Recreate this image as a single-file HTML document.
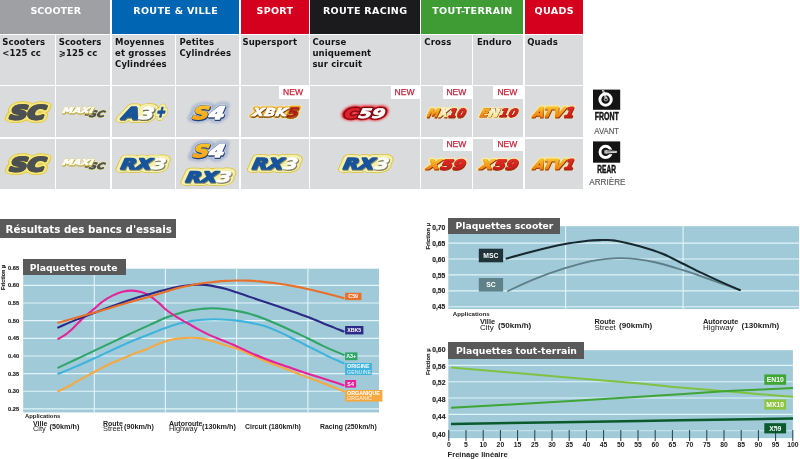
<!DOCTYPE html>
<html lang="fr"><head><meta charset="utf-8"><title>Plaquettes</title>
<style>
html,body{margin:0;padding:0;background:#fff}
body{width:800px;height:459px;position:relative;overflow:hidden;font-family:"DejaVu Sans","Liberation Sans",sans-serif;color:#111}
.a{position:absolute}
  .h{position:absolute;top:0;height:33.5px;color:#fff;font-weight:bold;font-size:9.55px;line-height:12px;text-align:center;white-space:nowrap}
.h span{position:relative;top:5.3px}
.c{position:absolute;background:#dadbdd}
.s{position:absolute;font-weight:bold;font-size:8.45px;line-height:11.35px;color:#141414;white-space:nowrap}
.new{position:absolute;background:#fff;color:#c4233a;font-family:"Liberation Sans",sans-serif;font-size:8.5px;line-height:13.6px;text-align:center;-webkit-text-stroke:0.25px #c4233a}
.t{position:absolute;background:#595959;color:#fff;font-weight:bold;white-space:nowrap}
svg{position:absolute;left:0;top:0;overflow:visible}
svg text{font-family:"Liberation Sans",sans-serif}
svg text.sb{font-family:"DejaVu Sans","Liberation Sans",sans-serif;font-weight:bold;font-size:8.5px;letter-spacing:0.12px;fill:#141414}
.lg text{font-family:"DejaVu Sans","Liberation Sans",sans-serif;font-weight:bold;font-style:italic}
</style></head><body>

<div class="h" style="left:0px;width:109.9px;background:#9fa0a3"><span style="top:5.3px;left:0.8px">SCOOTER</span></div>
<div class="h" style="left:111.7px;width:127.7px;background:#0065b3;letter-spacing:0.3px"><span style="top:5.3px;left:0.15px">ROUTE &amp; VILLE</span></div>
<div class="h" style="left:240.8px;width:68.0px;background:#d4001e;letter-spacing:0.3px"><span style="top:5.3px;left:0.15px">SPORT</span></div>
<div class="h" style="left:310.2px;width:109.6px;background:#1b1a1c;letter-spacing:0.3px"><span style="top:5.3px;left:0.15px">ROUTE RACING</span></div>
<div class="h" style="left:421.2px;width:102.2px;background:#3f9c35;letter-spacing:0.3px"><span style="top:5.3px;left:0.15px">TOUT-TERRAIN</span></div>
<div class="h" style="left:524.8px;width:58.6px;background:#d4001e;letter-spacing:0.3px"><span style="top:5.3px;left:0.15px">QUADS</span></div>
<div class="c" style="left:0px;top:34.7px;width:54.7px;height:50.6px"></div>
<div class="c" style="left:0px;top:86.45px;width:54.7px;height:50.7px"></div>
<div class="c" style="left:0px;top:138.5px;width:54.7px;height:50.2px"></div>
<div class="c" style="left:56.1px;top:34.7px;width:54.0px;height:50.6px"></div>
<div class="c" style="left:56.1px;top:86.45px;width:54.0px;height:50.7px"></div>
<div class="c" style="left:56.1px;top:138.5px;width:54.0px;height:50.2px"></div>
<div class="c" style="left:111.5px;top:34.7px;width:63.1px;height:50.6px"></div>
<div class="c" style="left:111.5px;top:86.45px;width:63.1px;height:50.7px"></div>
<div class="c" style="left:111.5px;top:138.5px;width:63.1px;height:50.2px"></div>
<div class="c" style="left:176.0px;top:34.7px;width:63.4px;height:50.6px"></div>
<div class="c" style="left:176.0px;top:86.45px;width:63.4px;height:50.7px"></div>
<div class="c" style="left:176.0px;top:138.5px;width:63.4px;height:50.2px"></div>
<div class="c" style="left:240.79999999999998px;top:34.7px;width:68.0px;height:50.6px"></div>
<div class="c" style="left:240.79999999999998px;top:86.45px;width:68.0px;height:50.7px"></div>
<div class="c" style="left:240.79999999999998px;top:138.5px;width:68.0px;height:50.2px"></div>
<div class="c" style="left:310.2px;top:34.7px;width:109.6px;height:50.6px"></div>
<div class="c" style="left:310.2px;top:86.45px;width:109.6px;height:50.7px"></div>
<div class="c" style="left:310.2px;top:138.5px;width:109.6px;height:50.2px"></div>
<div class="c" style="left:421.2px;top:34.7px;width:50.6px;height:50.6px"></div>
<div class="c" style="left:421.2px;top:86.45px;width:50.6px;height:50.7px"></div>
<div class="c" style="left:421.2px;top:138.5px;width:50.6px;height:50.2px"></div>
<div class="c" style="left:473.2px;top:34.7px;width:50.2px;height:50.6px"></div>
<div class="c" style="left:473.2px;top:86.45px;width:50.2px;height:50.7px"></div>
<div class="c" style="left:473.2px;top:138.5px;width:50.2px;height:50.2px"></div>
<div class="c" style="left:524.8000000000001px;top:34.7px;width:58.5px;height:50.6px"></div>
<div class="c" style="left:524.8000000000001px;top:86.45px;width:58.5px;height:50.7px"></div>
<div class="c" style="left:524.8000000000001px;top:138.5px;width:58.5px;height:50.2px"></div>
<div class="new" style="left:279px;top:86.2px;width:29.8px;height:13.3px"><span style="position:relative;left:-0.9px">NEW</span></div>
<div class="new" style="left:391px;top:86.2px;width:28.8px;height:13.3px"><span style="position:relative;left:-0.9px">NEW</span></div>
<div class="new" style="left:442.6px;top:86.2px;width:29.2px;height:13.3px"><span style="position:relative;left:-0.9px">NEW</span></div>
<div class="new" style="left:493px;top:86.2px;width:30.4px;height:13.3px"><span style="position:relative;left:-0.9px">NEW</span></div>
<div class="new" style="left:442.6px;top:138.2px;width:29.2px;height:13.3px"><span style="position:relative;left:-0.9px">NEW</span></div>
<div class="new" style="left:493px;top:138.2px;width:30.4px;height:13.3px"><span style="position:relative;left:-0.9px">NEW</span></div>
<svg width="800" height="459" viewBox="0 0 800 459">
<defs>
<linearGradient id="gO" x1="0" y1="0" x2="0" y2="1"><stop offset="0" stop-color="#fbd23a"/><stop offset="0.55" stop-color="#f39a1a"/><stop offset="1" stop-color="#ea6a10"/></linearGradient>
<linearGradient id="gY" x1="0" y1="0" x2="0" y2="1"><stop offset="0" stop-color="#ffffff"/><stop offset="1" stop-color="#fbe27a"/></linearGradient>
<linearGradient id="gR" x1="0" y1="0" x2="0" y2="1"><stop offset="0" stop-color="#e8302a"/><stop offset="1" stop-color="#c4141c"/></linearGradient>
<linearGradient id="gS" x1="0" y1="0" x2="0" y2="1"><stop offset="0" stop-color="#fcc62c"/><stop offset="1" stop-color="#f2a012"/></linearGradient>
<filter id="bl1" x="-20%" y="-40%" width="140%" height="180%"><feGaussianBlur stdDeviation="0.9"/></filter>
<filter id="bl2" x="-20%" y="-40%" width="140%" height="180%"><feGaussianBlur stdDeviation="1.6"/></filter>
</defs>
<text class="sb" x="2.25" y="44.50">Scooters</text>
<text class="sb" x="2.25" y="55.80">&lt;125 cc</text>
<text class="sb" x="58.65" y="44.50">Scooters</text>
<text class="sb" x="58.65" y="55.80">&#10878;125 cc</text>
<text class="sb" x="115.05" y="44.50">Moyennes</text>
<text class="sb" x="115.05" y="55.80">et grosses</text>
<text class="sb" x="115.05" y="67.10">Cylindrées</text>
<text class="sb" x="179.45" y="44.50">Petites</text>
<text class="sb" x="179.45" y="55.80">Cylindrées</text>
<text class="sb" x="242.45" y="44.50">Supersport</text>
<text class="sb" x="312.45" y="44.50">Course</text>
<text class="sb" x="312.45" y="55.80">uniquement</text>
<text class="sb" x="312.45" y="67.10">sur circuit</text>
<text class="sb" x="424.35" y="44.50">Cross</text>
<text class="sb" x="476.95" y="44.50">Enduro</text>
<text class="sb" x="527.25" y="44.50">Quads</text>
<g class="lg" transform="translate(9.60,119.20) skewX(-8)" font-size="18.66" stroke-linejoin="round">
<text x="0" y="0" textLength="35.25" lengthAdjust="spacingAndGlyphs" fill="none" stroke="#e2c62e" stroke-width="7.60">SC</text>
<text x="0" y="0" textLength="35.25" lengthAdjust="spacingAndGlyphs" fill="none" stroke="#f4e67c" stroke-width="6.20">SC</text>
<text x="0" y="0" textLength="35.25" lengthAdjust="spacingAndGlyphs" fill="none" stroke="#5a5a2a" stroke-width="2.50">SC</text>
<text x="0" y="0" textLength="35.25" lengthAdjust="spacingAndGlyphs"><tspan fill="#4b5055" stroke="#4b5055" stroke-width="1.8">SC</tspan></text>
</g>
<g class="lg" transform="translate(9.60,171.20) skewX(-8)" font-size="18.66" stroke-linejoin="round">
<text x="0" y="0" textLength="35.25" lengthAdjust="spacingAndGlyphs" fill="none" stroke="#e2c62e" stroke-width="7.60">SC</text>
<text x="0" y="0" textLength="35.25" lengthAdjust="spacingAndGlyphs" fill="none" stroke="#f4e67c" stroke-width="6.20">SC</text>
<text x="0" y="0" textLength="35.25" lengthAdjust="spacingAndGlyphs" fill="none" stroke="#5a5a2a" stroke-width="2.50">SC</text>
<text x="0" y="0" textLength="35.25" lengthAdjust="spacingAndGlyphs"><tspan fill="#4b5055" stroke="#4b5055" stroke-width="1.8">SC</tspan></text>
</g>
<g class="lg" transform="translate(84.35,116.95) skewX(-14)" font-size="8.64" stroke-linejoin="round">
<text x="0" y="0" textLength="20.06" lengthAdjust="spacingAndGlyphs" fill="none" stroke="#efe6a0" stroke-width="2.30">-SC</text>
<text x="0" y="0" textLength="20.06" lengthAdjust="spacingAndGlyphs"><tspan fill="#4b5055" stroke="#4b5055" stroke-width="0.7">-SC</tspan></text>
</g>
<g class="lg" transform="translate(62.30,113.10) skewX(-14)" font-size="7.96" stroke-linejoin="round">
<text x="0" y="0" textLength="30.53" lengthAdjust="spacingAndGlyphs" fill="none" stroke="#e9dd8a" stroke-width="1.40">MAXI</text>
<text x="0" y="0" textLength="30.53" lengthAdjust="spacingAndGlyphs" fill="#bfa52e" stroke="#bfa52e" stroke-width="1.10" transform="translate(0.6,0.9)">MAXI</text>
<text x="0" y="0" textLength="30.53" lengthAdjust="spacingAndGlyphs"><tspan fill="#ffffff" stroke="#ffffff" stroke-width="0.6">MAXI</tspan></text>
</g>
<g class="lg" transform="translate(84.35,168.95) skewX(-14)" font-size="8.64" stroke-linejoin="round">
<text x="0" y="0" textLength="20.06" lengthAdjust="spacingAndGlyphs" fill="none" stroke="#efe6a0" stroke-width="2.30">-SC</text>
<text x="0" y="0" textLength="20.06" lengthAdjust="spacingAndGlyphs"><tspan fill="#4b5055" stroke="#4b5055" stroke-width="0.7">-SC</tspan></text>
</g>
<g class="lg" transform="translate(62.30,165.10) skewX(-14)" font-size="7.96" stroke-linejoin="round">
<text x="0" y="0" textLength="30.53" lengthAdjust="spacingAndGlyphs" fill="none" stroke="#e9dd8a" stroke-width="1.40">MAXI</text>
<text x="0" y="0" textLength="30.53" lengthAdjust="spacingAndGlyphs" fill="#bfa52e" stroke="#bfa52e" stroke-width="1.10" transform="translate(0.6,0.9)">MAXI</text>
<text x="0" y="0" textLength="30.53" lengthAdjust="spacingAndGlyphs"><tspan fill="#ffffff" stroke="#ffffff" stroke-width="0.6">MAXI</tspan></text>
</g>
<g class="lg" transform="translate(121.90,118.90) skewX(-10)" font-size="16.19" stroke-linejoin="round">
<text x="0" y="0" textLength="31.75" lengthAdjust="spacingAndGlyphs" fill="none" stroke="#dcc232" stroke-width="7.40">A3</text>
<text x="0" y="0" textLength="31.75" lengthAdjust="spacingAndGlyphs" fill="none" stroke="#f5efae" stroke-width="6.10">A3</text>
<text x="0" y="0" textLength="31.75" lengthAdjust="spacingAndGlyphs" fill="#6a6f55" stroke="#6a6f55" stroke-width="1.40" opacity="0.8" transform="translate(0.8,0.8)">A3</text>
<text x="0" y="0" textLength="31.75" lengthAdjust="spacingAndGlyphs"><tspan fill="#17549c" stroke="#17549c" stroke-width="1.4">A</tspan><tspan fill="#ffffff" stroke="#ffffff" stroke-width="0.7">3</tspan></text>
</g>
<g class="lg" transform="translate(155.75,116.85) skewX(-12)" font-size="15.23" stroke-linejoin="round">
<text x="0" y="0" textLength="9.28" lengthAdjust="spacingAndGlyphs" fill="none" stroke="#dcc232" stroke-width="7.50">+</text>
<text x="0" y="0" textLength="9.28" lengthAdjust="spacingAndGlyphs" fill="none" stroke="#f5efae" stroke-width="6.20">+</text>
<text x="0" y="0" textLength="9.28" lengthAdjust="spacingAndGlyphs"><tspan fill="#17549c" stroke="#17549c" stroke-width="1.5">+</tspan></text>
</g>
<g class="lg" transform="translate(121.90,118.90) skewX(-10)" font-size="16.19" stroke-linejoin="round">
<text x="0" y="0" textLength="31.75" lengthAdjust="spacingAndGlyphs" fill="#6a6f55" stroke="#6a6f55" stroke-width="1.40" opacity="0.8" transform="translate(0.8,0.8)">A3</text>
<text x="0" y="0" textLength="31.75" lengthAdjust="spacingAndGlyphs"><tspan fill="#17549c" stroke="#17549c" stroke-width="1.4">A</tspan><tspan fill="#ffffff" stroke="#ffffff" stroke-width="0.7">3</tspan></text>
</g>
<g class="lg" transform="translate(120.30,169.30) skewX(-10)" font-size="14.54" stroke-linejoin="round">
<text x="0" y="0" textLength="45.08" lengthAdjust="spacingAndGlyphs" fill="none" stroke="#dcc232" stroke-width="7.40">RX3</text>
<text x="0" y="0" textLength="45.08" lengthAdjust="spacingAndGlyphs" fill="none" stroke="#f5efae" stroke-width="6.10">RX3</text>
<text x="0" y="0" textLength="45.08" lengthAdjust="spacingAndGlyphs" fill="#6a6f55" stroke="#6a6f55" stroke-width="1.40" opacity="0.8" transform="translate(0.8,0.8)">RX3</text>
<text x="0" y="0" textLength="45.08" lengthAdjust="spacingAndGlyphs"><tspan fill="#17549c" stroke="#17549c" stroke-width="1.4">RX</tspan><tspan fill="#ffffff" stroke="#ffffff" stroke-width="0.7">3</tspan></text>
</g>
<g class="lg" transform="translate(185.20,182.00) skewX(-10)" font-size="14.40" stroke-linejoin="round">
<text x="0" y="0" textLength="45.59" lengthAdjust="spacingAndGlyphs" fill="none" stroke="#dcc232" stroke-width="7.40">RX3</text>
<text x="0" y="0" textLength="45.59" lengthAdjust="spacingAndGlyphs" fill="none" stroke="#f5efae" stroke-width="6.10">RX3</text>
<text x="0" y="0" textLength="45.59" lengthAdjust="spacingAndGlyphs" fill="#6a6f55" stroke="#6a6f55" stroke-width="1.40" opacity="0.8" transform="translate(0.8,0.8)">RX3</text>
<text x="0" y="0" textLength="45.59" lengthAdjust="spacingAndGlyphs"><tspan fill="#17549c" stroke="#17549c" stroke-width="1.4">RX</tspan><tspan fill="#ffffff" stroke="#ffffff" stroke-width="0.7">3</tspan></text>
</g>
<g class="lg" transform="translate(251.70,169.10) skewX(-10)" font-size="15.09" stroke-linejoin="round">
<text x="0" y="0" textLength="45.44" lengthAdjust="spacingAndGlyphs" fill="none" stroke="#dcc232" stroke-width="7.40">RX3</text>
<text x="0" y="0" textLength="45.44" lengthAdjust="spacingAndGlyphs" fill="none" stroke="#f5efae" stroke-width="6.10">RX3</text>
<text x="0" y="0" textLength="45.44" lengthAdjust="spacingAndGlyphs" fill="#6a6f55" stroke="#6a6f55" stroke-width="1.40" opacity="0.8" transform="translate(0.8,0.8)">RX3</text>
<text x="0" y="0" textLength="45.44" lengthAdjust="spacingAndGlyphs"><tspan fill="#17549c" stroke="#17549c" stroke-width="1.4">RX</tspan><tspan fill="#ffffff" stroke="#ffffff" stroke-width="0.7">3</tspan></text>
</g>
<g class="lg" transform="translate(342.70,169.10) skewX(-10)" font-size="15.09" stroke-linejoin="round">
<text x="0" y="0" textLength="45.44" lengthAdjust="spacingAndGlyphs" fill="none" stroke="#dcc232" stroke-width="7.40">RX3</text>
<text x="0" y="0" textLength="45.44" lengthAdjust="spacingAndGlyphs" fill="none" stroke="#f5efae" stroke-width="6.10">RX3</text>
<text x="0" y="0" textLength="45.44" lengthAdjust="spacingAndGlyphs" fill="#6a6f55" stroke="#6a6f55" stroke-width="1.40" opacity="0.8" transform="translate(0.8,0.8)">RX3</text>
<text x="0" y="0" textLength="45.44" lengthAdjust="spacingAndGlyphs"><tspan fill="#17549c" stroke="#17549c" stroke-width="1.4">RX</tspan><tspan fill="#ffffff" stroke="#ffffff" stroke-width="0.7">3</tspan></text>
</g>
<g class="lg" transform="translate(192.25,118.95) skewX(-10)" font-size="17.42" stroke-linejoin="round">
<text x="0" y="0" textLength="31.76" lengthAdjust="spacingAndGlyphs" fill="none" stroke="#8a9fc4" stroke-width="6.70" filter="url(#bl2)" opacity="0.95">S4</text>
<text x="0" y="0" textLength="31.76" lengthAdjust="spacingAndGlyphs" fill="none" stroke="#e9eef6" stroke-width="3.70" filter="url(#bl1)" opacity="0.85">S4</text>
<text x="0" y="0" textLength="31.76" lengthAdjust="spacingAndGlyphs" fill="none" stroke="#3a538a" stroke-width="2.20" opacity="0.8">S4</text>
<text x="0" y="0" textLength="31.76" lengthAdjust="spacingAndGlyphs" fill="#243f78" stroke="#243f78" stroke-width="1.90" transform="translate(0.7,1.0)">S4</text>
<text x="0" y="0" textLength="31.76" lengthAdjust="spacingAndGlyphs"><tspan fill="url(#gS)" stroke="url(#gS)" stroke-width="1.3">S</tspan><tspan fill="#ffffff" stroke="#ffffff" stroke-width="1.3">4</tspan></text>
</g>
<g class="lg" transform="translate(192.55,157.35) skewX(-10)" font-size="17.15" stroke-linejoin="round">
<text x="0" y="0" textLength="31.28" lengthAdjust="spacingAndGlyphs" fill="none" stroke="#8a9fc4" stroke-width="6.70" filter="url(#bl2)" opacity="0.95">S4</text>
<text x="0" y="0" textLength="31.28" lengthAdjust="spacingAndGlyphs" fill="none" stroke="#e9eef6" stroke-width="3.70" filter="url(#bl1)" opacity="0.85">S4</text>
<text x="0" y="0" textLength="31.28" lengthAdjust="spacingAndGlyphs" fill="none" stroke="#3a538a" stroke-width="2.20" opacity="0.8">S4</text>
<text x="0" y="0" textLength="31.28" lengthAdjust="spacingAndGlyphs" fill="#243f78" stroke="#243f78" stroke-width="1.90" transform="translate(0.7,1.0)">S4</text>
<text x="0" y="0" textLength="31.28" lengthAdjust="spacingAndGlyphs"><tspan fill="url(#gS)" stroke="url(#gS)" stroke-width="1.3">S</tspan><tspan fill="#ffffff" stroke="#ffffff" stroke-width="1.3">4</tspan></text>
</g>
<g class="lg" transform="translate(252.25,116.15) skewX(-10)" font-size="10.84" stroke-linejoin="round">
<text x="0" y="0" textLength="34.26" lengthAdjust="spacingAndGlyphs" fill="none" stroke="#f7e9a8" stroke-width="4.50">XBK</text>
<text x="0" y="0" textLength="34.26" lengthAdjust="spacingAndGlyphs" fill="none" stroke="#e6a426" stroke-width="3.30">XBK</text>
<text x="0" y="0" textLength="34.26" lengthAdjust="spacingAndGlyphs" fill="none" stroke="#7a4a10" stroke-width="1.00" transform="translate(0.5,0.6)">XBK</text>
<text x="0" y="0" textLength="34.26" lengthAdjust="spacingAndGlyphs"><tspan fill="#ffffff" stroke="#ffffff" stroke-width="0.5">XBK</tspan></text>
</g>
<g class="lg" transform="translate(286.45,116.95) skewX(-10)" font-size="13.03" stroke-linejoin="round">
<text x="0" y="0" textLength="11.49" lengthAdjust="spacingAndGlyphs" fill="none" stroke="#f7e9a8" stroke-width="4.50">5</text>
<text x="0" y="0" textLength="11.49" lengthAdjust="spacingAndGlyphs" fill="none" stroke="#e6a426" stroke-width="3.30">5</text>
<text x="0" y="0" textLength="11.49" lengthAdjust="spacingAndGlyphs" fill="none" stroke="#7a4a10" stroke-width="1.00" transform="translate(0.5,0.6)">5</text>
<text x="0" y="0" textLength="11.49" lengthAdjust="spacingAndGlyphs"><tspan fill="#b21a1a" stroke="#b21a1a" stroke-width="0.5">5</tspan></text>
</g>
<g class="lg" transform="translate(252.25,116.15) skewX(-10)" font-size="10.84" stroke-linejoin="round">
<text x="0" y="0" textLength="34.26" lengthAdjust="spacingAndGlyphs" fill="none" stroke="#7a4a10" stroke-width="1.00" transform="translate(0.5,0.6)">XBK</text>
<text x="0" y="0" textLength="34.26" lengthAdjust="spacingAndGlyphs"><tspan fill="#ffffff" stroke="#ffffff" stroke-width="0.5">XBK</tspan></text>
</g>
<g class="lg" transform="translate(343.95,117.85) skewX(-10)" font-size="13.17" stroke-linejoin="round">
<text x="0" y="0" textLength="40.68" lengthAdjust="spacingAndGlyphs" fill="none" stroke="#e8404a" stroke-width="5.70" filter="url(#bl1)" opacity="0.9">C59</text>
<text x="0" y="0" textLength="40.68" lengthAdjust="spacingAndGlyphs" fill="none" stroke="#c8141e" stroke-width="3.90">C59</text>
<text x="0" y="0" textLength="40.68" lengthAdjust="spacingAndGlyphs" fill="none" stroke="#7c0c12" stroke-width="2.70">C59</text>
<text x="0" y="0" textLength="40.68" lengthAdjust="spacingAndGlyphs"><tspan fill="#e0222c" stroke="#e0222c" stroke-width="0.7">C</tspan><tspan fill="#ffffff" stroke="#ffffff" stroke-width="0.7">59</tspan></text>
</g>
<g class="lg" transform="translate(426.60,116.90) skewX(-14)" font-size="12.07" stroke-linejoin="round">
<text x="0" y="0" textLength="37.98" lengthAdjust="spacingAndGlyphs" fill="none" stroke="#f6eaa6" stroke-width="3.00">MX10</text>
<text x="0" y="0" textLength="37.98" lengthAdjust="spacingAndGlyphs" fill="#8f2a0c" stroke="#8f2a0c" stroke-width="0.80" transform="translate(0.6,0.7)">MX10</text>
<text x="0" y="0" textLength="37.98" lengthAdjust="spacingAndGlyphs"><tspan fill="url(#gO)" stroke="url(#gO)" stroke-width="0.6">M</tspan><tspan fill="url(#gY)" stroke="url(#gY)" stroke-width="0.6">X</tspan><tspan fill="url(#gR)" stroke="url(#gR)" stroke-width="0.6">10</tspan></text>
</g>
<g class="lg" transform="translate(479.30,116.60) skewX(-14)" font-size="11.39" stroke-linejoin="round">
<text x="0" y="0" textLength="37.36" lengthAdjust="spacingAndGlyphs" fill="none" stroke="#f6eaa6" stroke-width="3.00">EN10</text>
<text x="0" y="0" textLength="37.36" lengthAdjust="spacingAndGlyphs" fill="#8f2a0c" stroke="#8f2a0c" stroke-width="0.80" transform="translate(0.6,0.7)">EN10</text>
<text x="0" y="0" textLength="37.36" lengthAdjust="spacingAndGlyphs"><tspan fill="url(#gO)" stroke="url(#gO)" stroke-width="0.6">E</tspan><tspan fill="url(#gY)" stroke="url(#gY)" stroke-width="0.6">N</tspan><tspan fill="url(#gR)" stroke="url(#gR)" stroke-width="0.6">10</tspan></text>
</g>
<g class="lg" transform="translate(532.65,117.15) skewX(-14)" font-size="13.72" stroke-linejoin="round">
<text x="0" y="0" textLength="41.00" lengthAdjust="spacingAndGlyphs" fill="none" stroke="#f6eaa6" stroke-width="3.30">ATV1</text>
<text x="0" y="0" textLength="41.00" lengthAdjust="spacingAndGlyphs" fill="#8f2a0c" stroke="#8f2a0c" stroke-width="1.10" transform="translate(0.6,0.7)">ATV1</text>
<text x="0" y="0" textLength="41.00" lengthAdjust="spacingAndGlyphs"><tspan fill="url(#gO)" stroke="url(#gO)" stroke-width="0.9">ATV</tspan><tspan fill="url(#gR)" stroke="url(#gR)" stroke-width="0.9">1</tspan></text>
</g>
<g class="lg" transform="translate(426.05,169.15) skewX(-14)" font-size="13.17" stroke-linejoin="round">
<text x="0" y="0" textLength="38.26" lengthAdjust="spacingAndGlyphs" fill="none" stroke="#f6eaa6" stroke-width="3.30">X59</text>
<text x="0" y="0" textLength="38.26" lengthAdjust="spacingAndGlyphs" fill="#8f2a0c" stroke="#8f2a0c" stroke-width="1.10" transform="translate(0.6,0.7)">X59</text>
<text x="0" y="0" textLength="38.26" lengthAdjust="spacingAndGlyphs"><tspan fill="url(#gO)" stroke="url(#gO)" stroke-width="0.9">X</tspan><tspan fill="url(#gR)" stroke="url(#gR)" stroke-width="0.9">59</tspan></text>
</g>
<g class="lg" transform="translate(479.25,169.15) skewX(-14)" font-size="13.17" stroke-linejoin="round">
<text x="0" y="0" textLength="37.56" lengthAdjust="spacingAndGlyphs" fill="none" stroke="#f6eaa6" stroke-width="3.30">X59</text>
<text x="0" y="0" textLength="37.56" lengthAdjust="spacingAndGlyphs" fill="#8f2a0c" stroke="#8f2a0c" stroke-width="1.10" transform="translate(0.6,0.7)">X59</text>
<text x="0" y="0" textLength="37.56" lengthAdjust="spacingAndGlyphs"><tspan fill="url(#gO)" stroke="url(#gO)" stroke-width="0.9">X</tspan><tspan fill="url(#gR)" stroke="url(#gR)" stroke-width="0.9">59</tspan></text>
</g>
<g class="lg" transform="translate(532.65,169.35) skewX(-14)" font-size="13.72" stroke-linejoin="round">
<text x="0" y="0" textLength="41.00" lengthAdjust="spacingAndGlyphs" fill="none" stroke="#f6eaa6" stroke-width="3.30">ATV1</text>
<text x="0" y="0" textLength="41.00" lengthAdjust="spacingAndGlyphs" fill="#8f2a0c" stroke="#8f2a0c" stroke-width="1.10" transform="translate(0.6,0.7)">ATV1</text>
<text x="0" y="0" textLength="41.00" lengthAdjust="spacingAndGlyphs"><tspan fill="url(#gO)" stroke="url(#gO)" stroke-width="0.9">ATV</tspan><tspan fill="url(#gR)" stroke="url(#gR)" stroke-width="0.9">1</tspan></text>
</g>
<g>
<rect x="593" y="89.6" width="27.2" height="20.2" fill="#141414"/>
<circle cx="605.6" cy="99.5" r="5.7" fill="none" stroke="#fff" stroke-width="2.9"/>
<circle cx="605.9" cy="99.3" r="2.2" fill="#8a8a8a"/>
<circle cx="605.9" cy="99.3" r="0.9" fill="#222"/>
<path d="M602.3 90 L605.6 98.6 M603.5 90 L606.7 98.4" stroke="#fff" stroke-width="0.8" fill="none"/>
<text x="594.8" y="120" font-weight="bold" font-size="10" fill="#141414" stroke="#141414" stroke-width="0.5" textLength="24" lengthAdjust="spacingAndGlyphs">FRONT</text>
<text x="594.3" y="133.7" font-size="9" fill="#585858" stroke="#585858" stroke-width="0.15" textLength="24.8" lengthAdjust="spacingAndGlyphs">AVANT</text>
<rect x="593" y="141.4" width="27.2" height="21.3" fill="#141414"/>
<circle cx="605.6" cy="151.9" r="5.6" fill="none" stroke="#fff" stroke-width="2.9"/>
<rect x="606" y="149.6" width="11" height="4.6" fill="#141414"/>
<circle cx="605.9" cy="151.9" r="2.1" fill="#8a8a8a"/>
<path d="M606 150.9 L616.6 151.4 L616.6 152.4 L606 152.9 Z" fill="#555" stroke="#fff" stroke-width="0.8"/>
<text x="597.3" y="172.6" font-weight="bold" font-size="10" fill="#141414" stroke="#141414" stroke-width="0.5" textLength="18.6" lengthAdjust="spacingAndGlyphs">REAR</text>
<text x="589.3" y="185.3" font-size="9.3" fill="#585858" stroke="#585858" stroke-width="0.15" textLength="36.2" lengthAdjust="spacingAndGlyphs">ARRIÈRE</text>
</g>
</svg>
<div class="t" style="left:0;top:219.3px;width:176px;height:19px;font-size:10.3px;line-height:20.2px"><span style="padding-left:5.6px">Résultats des bancs d'essais</span></div>
<svg width="800" height="459" viewBox="0 0 800 459">
<rect x="23.2" y="268.7" width="355.8" height="143.7" fill="#a0cad8"/>
<line x1="23.2" x2="379.0" y1="285.35" y2="285.35" stroke="#e2f3f9" stroke-width="1.15"/>
<line x1="23.2" x2="379.0" y1="303.00" y2="303.00" stroke="#e2f3f9" stroke-width="1.15"/>
<line x1="23.2" x2="379.0" y1="320.65" y2="320.65" stroke="#e2f3f9" stroke-width="1.15"/>
<line x1="23.2" x2="379.0" y1="338.30" y2="338.30" stroke="#e2f3f9" stroke-width="1.15"/>
<line x1="23.2" x2="379.0" y1="355.95" y2="355.95" stroke="#e2f3f9" stroke-width="1.15"/>
<line x1="23.2" x2="379.0" y1="373.60" y2="373.60" stroke="#e2f3f9" stroke-width="1.15"/>
<line x1="23.2" x2="379.0" y1="391.25" y2="391.25" stroke="#e2f3f9" stroke-width="1.15"/>
<line x1="23.2" x2="379.0" y1="408.90" y2="408.90" stroke="#e2f3f9" stroke-width="1.15"/>
<line x1="94.3" x2="94.3" y1="268.7" y2="412.4" stroke="#e2f3f9" stroke-width="1.15"/>
<line x1="165.4" x2="165.4" y1="268.7" y2="412.4" stroke="#e2f3f9" stroke-width="1.15"/>
<line x1="236.6" x2="236.6" y1="268.7" y2="412.4" stroke="#e2f3f9" stroke-width="1.15"/>
<line x1="307.9" x2="307.9" y1="268.7" y2="412.4" stroke="#e2f3f9" stroke-width="1.15"/>
<text x="8" y="269.7" font-size="5.7" font-weight="bold" fill="#222" stroke="#222" stroke-width="0.15">0.65</text>
<text x="8" y="287.3" font-size="5.7" font-weight="bold" fill="#222" stroke="#222" stroke-width="0.15">0.60</text>
<text x="8" y="305.0" font-size="5.7" font-weight="bold" fill="#222" stroke="#222" stroke-width="0.15">0.55</text>
<text x="8" y="322.6" font-size="5.7" font-weight="bold" fill="#222" stroke="#222" stroke-width="0.15">0.50</text>
<text x="8" y="340.3" font-size="5.7" font-weight="bold" fill="#222" stroke="#222" stroke-width="0.15">0.45</text>
<text x="8" y="357.9" font-size="5.7" font-weight="bold" fill="#222" stroke="#222" stroke-width="0.15">0.40</text>
<text x="8" y="375.6" font-size="5.7" font-weight="bold" fill="#222" stroke="#222" stroke-width="0.15">0.35</text>
<text x="8" y="393.2" font-size="5.7" font-weight="bold" fill="#222" stroke="#222" stroke-width="0.15">0.30</text>
<text x="8" y="410.9" font-size="5.7" font-weight="bold" fill="#222" stroke="#222" stroke-width="0.15">0.25</text>
<text transform="translate(5.2,290) rotate(-90)" font-size="5.6" font-weight="bold" fill="#222" stroke="#222" stroke-width="0.12">Friction µ</text>
<path d="M58.3 391.2 C60.0 390.4 64.8 388.2 68.6 386.2 C72.4 384.2 76.9 381.4 81.1 379.1 C85.3 376.8 89.4 374.7 93.9 372.3 C98.4 369.9 103.5 366.9 107.9 364.8 C112.3 362.7 116.2 361.3 120.4 359.5 C124.6 357.7 128.5 355.9 132.9 354.1 C137.3 352.4 142.6 350.8 147.1 349.0 C151.6 347.2 156.2 344.7 160.0 343.2 C163.8 341.7 166.8 340.8 170.0 340.0 C173.2 339.2 175.7 338.8 179.2 338.4 C182.7 338.0 187.1 337.7 191.0 337.7 C194.9 337.7 198.8 337.9 202.7 338.6 C206.6 339.3 210.6 340.5 214.5 341.7 C218.4 342.9 222.6 344.5 226.3 345.6 C230.0 346.8 232.1 347.0 236.5 348.6 C240.9 350.2 247.3 353.2 252.5 355.4 C257.7 357.6 262.5 359.9 267.5 362.0 C272.5 364.1 277.5 365.9 282.5 367.8 C287.5 369.7 293.2 372.0 297.5 373.6 C301.8 375.2 304.2 376.2 308.0 377.6 C311.8 379.0 315.5 380.2 320.0 381.9 C324.5 383.6 331.0 386.2 335.0 387.8 C339.0 389.4 342.3 390.8 343.8 391.4" fill="none" stroke="#f7a941" stroke-width="2.1" stroke-linecap="round" stroke-linejoin="round"/>
<path d="M58.3 373.8 C61.2 372.6 69.8 369.2 75.7 366.6 C81.6 364.1 85.2 362.5 93.9 358.5 C102.7 354.5 118.5 346.9 128.2 342.7 C137.8 338.5 145.6 335.7 151.8 333.2 C158.0 330.7 160.9 329.5 165.5 327.9 C170.1 326.3 174.9 324.7 179.2 323.6 C183.4 322.5 187.1 321.8 191.0 321.1 C194.9 320.5 198.8 320.0 202.7 319.7 C206.6 319.4 210.6 319.3 214.5 319.3 C218.4 319.3 222.6 319.5 226.3 319.7 C230.0 319.9 232.9 320.2 236.5 320.6 C240.1 321.0 243.3 321.4 247.8 322.3 C252.3 323.2 258.3 324.2 263.5 325.8 C268.7 327.4 274.0 329.6 279.2 331.9 C284.4 334.2 290.0 337.1 294.9 339.5 C299.8 341.9 304.0 344.3 308.6 346.6 C313.2 348.9 318.1 351.3 322.4 353.4 C326.6 355.5 330.6 357.5 334.1 359.1 C337.6 360.7 342.0 362.5 343.6 363.2" fill="none" stroke="#3fb3dc" stroke-width="2.1" stroke-linecap="round" stroke-linejoin="round"/>
<path d="M58.3 367.6 C61.2 366.2 69.8 362.3 75.7 359.5 C81.6 356.7 85.2 355.0 93.9 350.9 C102.7 346.8 118.5 339.3 128.2 334.8 C137.8 330.3 145.6 326.8 151.8 324.0 C158.0 321.2 160.9 319.6 165.5 317.8 C170.1 316.0 174.9 314.4 179.2 313.2 C183.4 311.9 187.1 311.0 191.0 310.3 C194.9 309.6 199.1 309.1 202.7 308.8 C206.3 308.5 208.6 308.2 212.5 308.3 C216.4 308.4 222.3 308.8 226.3 309.2 C230.3 309.6 232.9 310.2 236.5 310.9 C240.1 311.6 243.3 312.0 247.8 313.3 C252.3 314.6 258.3 316.6 263.5 318.5 C268.7 320.4 274.0 322.7 279.2 325.0 C284.4 327.3 290.0 330.0 294.9 332.3 C299.8 334.6 304.0 336.5 308.6 338.7 C313.2 340.9 318.1 343.6 322.4 345.6 C326.6 347.6 330.6 349.4 334.1 350.9 C337.6 352.4 342.0 354.1 343.6 354.8" fill="none" stroke="#2fa567" stroke-width="2.1" stroke-linecap="round" stroke-linejoin="round"/>
<path d="M58.3 338.8 C59.5 338.1 63.0 336.4 65.5 334.6 C68.0 332.8 70.4 330.6 73.3 327.9 C76.2 325.1 79.7 321.2 83.1 318.1 C86.5 315.0 90.6 311.9 93.9 309.1 C97.2 306.3 99.6 303.8 102.7 301.5 C105.8 299.2 109.2 297.2 112.5 295.6 C115.8 294.0 119.1 292.6 122.4 291.8 C125.7 291.0 128.9 290.5 132.2 290.6 C135.5 290.7 138.9 291.4 142.0 292.3 C145.1 293.2 147.6 294.4 150.5 296.3 C153.4 298.2 157.1 301.5 159.6 303.6 C162.1 305.8 162.6 306.9 165.5 309.2 C168.4 311.5 173.4 314.9 177.3 317.4 C181.2 319.9 185.4 321.9 189.0 324.0 C192.6 326.1 195.5 327.9 198.8 329.7 C202.1 331.5 205.3 333.1 208.6 334.6 C211.9 336.1 215.1 337.5 218.4 338.8 C221.7 340.1 225.2 341.4 228.2 342.6 C231.2 343.8 232.4 344.4 236.5 346.2 C240.6 348.0 247.3 351.4 252.5 353.6 C257.7 355.9 262.5 357.8 267.5 359.7 C272.5 361.6 277.5 363.2 282.5 365.0 C287.5 366.8 293.2 368.7 297.5 370.2 C301.8 371.7 304.2 372.6 308.0 373.8 C311.8 375.0 315.5 376.1 320.0 377.5 C324.5 378.9 331.1 380.9 335.0 382.2 C338.9 383.5 342.2 384.7 343.6 385.2" fill="none" stroke="#e5229b" stroke-width="2.1" stroke-linecap="round" stroke-linejoin="round"/>
<path d="M58.2 327.5 C61.1 326.3 69.3 322.5 75.3 320.1 C81.2 317.7 85.1 316.2 93.9 312.9 C102.7 309.6 118.5 303.8 128.2 300.5 C137.8 297.2 145.6 295.2 151.8 293.4 C158.0 291.6 160.9 290.8 165.5 289.7 C170.1 288.6 174.9 287.4 179.2 286.6 C183.4 285.8 187.9 285.3 191.0 285.0 C194.1 284.7 195.7 284.6 198.0 284.6 C200.3 284.6 202.2 284.6 205.0 284.9 C207.8 285.2 210.9 285.7 214.5 286.4 C218.1 287.1 222.6 288.1 226.3 289.1 C230.0 290.1 232.9 291.1 236.5 292.3 C240.1 293.5 244.0 294.9 247.8 296.2 C251.7 297.5 254.4 298.4 259.6 300.2 C264.8 302.0 273.3 304.8 279.2 306.8 C285.1 308.8 290.0 310.6 294.9 312.3 C299.8 314.1 304.0 315.5 308.6 317.3 C313.2 319.1 318.1 321.3 322.4 323.0 C326.6 324.7 330.6 326.2 334.1 327.6 C337.6 329.0 342.0 330.9 343.6 331.5" fill="none" stroke="#2b2a86" stroke-width="2.1" stroke-linecap="round" stroke-linejoin="round"/>
<path d="M58.2 322.7 C64.2 321.1 82.2 316.1 93.9 312.8 C105.6 309.5 118.5 305.4 128.2 302.6 C137.8 299.8 145.6 297.8 151.8 296.0 C158.0 294.2 160.9 293.1 165.5 291.7 C170.1 290.3 174.9 288.8 179.2 287.7 C183.4 286.6 187.1 285.9 191.0 285.2 C194.9 284.4 198.8 283.8 202.7 283.2 C206.6 282.6 210.6 282.3 214.5 281.9 C218.4 281.5 222.6 281.1 226.3 280.9 C230.0 280.7 232.9 280.6 236.5 280.5 C240.1 280.4 244.0 280.5 247.8 280.6 C251.7 280.8 254.4 280.9 259.6 281.4 C264.8 281.9 273.3 283.0 279.2 283.8 C285.1 284.6 290.0 285.5 294.9 286.4 C299.8 287.3 304.0 288.3 308.6 289.3 C313.2 290.3 318.1 291.6 322.4 292.6 C326.6 293.7 330.6 294.7 334.1 295.6 C337.6 296.5 342.0 297.7 343.6 298.1" fill="none" stroke="#e9702a" stroke-width="2.1" stroke-linecap="round" stroke-linejoin="round"/>
<rect x="345.1" y="292.8" width="16.3" height="7.3" fill="#e9702a"/>
<text x="353.2" y="298.36" text-anchor="middle" font-size="5.3" font-weight="bold" fill="#fff">C59</text>
<rect x="345.1" y="326" width="18.3" height="8.4" fill="#2b2a86"/>
<text x="354.2" y="332.11" text-anchor="middle" font-size="5.3" font-weight="bold" fill="#fff">XBK5</text>
<rect x="345.1" y="352.4" width="12.3" height="7.8" fill="#2fa567"/>
<text x="351.2" y="358.21" text-anchor="middle" font-size="5.3" font-weight="bold" fill="#fff">A3+</text>
<rect x="345.1" y="363" width="26.7" height="12" fill="#3fb3dc"/>
<text x="347.1" y="368.31" font-size="5.3" font-weight="bold" fill="#fff">ORIGINE</text>
<text x="347.1" y="373.50" font-size="5.3" font-weight="normal" fill="#fff" opacity="0.88">GENUINE</text>
<rect x="345.1" y="380" width="11" height="7.6" fill="#e5229b"/>
<text x="350.6" y="385.71" text-anchor="middle" font-size="5.3" font-weight="bold" fill="#fff">S4</text>
<rect x="345.1" y="390" width="37.3" height="11.6" fill="#f7a941"/>
<text x="347.1" y="395.11" font-size="5.3" font-weight="bold" fill="#fff">ORGANIQUE</text>
<text x="347.1" y="400.31" font-size="5.3" font-weight="normal" fill="#fff" opacity="0.88">ORGANIC</text>
<text x="25" y="418.2" font-size="5.9" font-weight="bold" fill="#222">Applications</text>
<text x="33" y="425.5" font-size="7" font-weight="bold" fill="#222">Ville</text>
<text x="33" y="430.9" font-size="7.4" fill="#1a1a1a">City</text>
<text x="49.5" y="428.9" font-size="7.25" font-weight="bold" fill="#222">(50km/h)</text>
<text x="103" y="425.5" font-size="7" font-weight="bold" fill="#222">Route</text>
<text x="103" y="430.9" font-size="7.4" fill="#1a1a1a">Street</text>
<text x="124" y="428.9" font-size="7.25" font-weight="bold" fill="#222">(90km/h)</text>
<text x="169" y="425.5" font-size="7" font-weight="bold" fill="#222">Autoroute</text>
<text x="169" y="430.9" font-size="7.4" fill="#1a1a1a">Highway</text>
<text x="202" y="428.9" font-size="7.25" font-weight="bold" fill="#222">(130km/h)</text>
<text x="245" y="428.8" font-size="6.9" font-weight="bold" fill="#222">Circuit (180km/h)</text>
<text x="320" y="428.8" font-size="6.85" font-weight="bold" fill="#222">Racing (250km/h)</text>
<rect x="448.3" y="226.2" width="350.7" height="82.8" fill="#a0cad8"/>
<line x1="448.3" x2="799" y1="243.10" y2="243.10" stroke="#e2f3f9" stroke-width="1.15"/>
<line x1="448.3" x2="799" y1="259.00" y2="259.00" stroke="#e2f3f9" stroke-width="1.15"/>
<line x1="448.3" x2="799" y1="274.90" y2="274.90" stroke="#e2f3f9" stroke-width="1.15"/>
<line x1="448.3" x2="799" y1="290.80" y2="290.80" stroke="#e2f3f9" stroke-width="1.15"/>
<line x1="448.3" x2="799" y1="306.70" y2="306.70" stroke="#e2f3f9" stroke-width="1.15"/>
<line x1="565.6" x2="565.6" y1="226.2" y2="309.0" stroke="#e2f3f9" stroke-width="1.15"/>
<line x1="683.1" x2="683.1" y1="226.2" y2="309.0" stroke="#e2f3f9" stroke-width="1.15"/>
<text x="432.2" y="229.8" font-size="6.7" font-weight="bold" fill="#222" stroke="#222" stroke-width="0.15">0,70</text>
<text x="432.2" y="245.7" font-size="6.7" font-weight="bold" fill="#222" stroke="#222" stroke-width="0.15">0,65</text>
<text x="432.2" y="261.6" font-size="6.7" font-weight="bold" fill="#222" stroke="#222" stroke-width="0.15">0,60</text>
<text x="432.2" y="277.5" font-size="6.7" font-weight="bold" fill="#222" stroke="#222" stroke-width="0.15">0,55</text>
<text x="432.2" y="293.4" font-size="6.7" font-weight="bold" fill="#222" stroke="#222" stroke-width="0.15">0,50</text>
<text x="432.2" y="309.3" font-size="6.7" font-weight="bold" fill="#222" stroke="#222" stroke-width="0.15">0,45</text>
<text transform="translate(430,249.6) rotate(-90)" font-size="5.9" font-weight="bold" fill="#222" stroke="#222" stroke-width="0.15">Friction µ</text>
<path d="M508.1 291.0 C512.2 289.1 523.0 283.6 532.5 279.8 C542.0 276.0 555.2 271.3 565.0 268.2 C574.8 265.1 584.0 262.7 591.0 261.1 C598.0 259.5 602.3 259.3 607.2 258.8 C612.1 258.3 615.3 258.1 620.2 258.2 C625.1 258.3 630.5 258.5 636.5 259.2 C642.5 259.9 648.4 260.7 656.0 262.5 C663.6 264.3 674.4 267.6 682.0 269.9 C689.6 272.2 695.0 274.1 701.5 276.4 C708.0 278.7 714.6 281.2 721.0 283.5 C727.4 285.8 736.7 288.9 739.8 290.0" fill="none" stroke="#5f7f88" stroke-width="1.8" stroke-linecap="round"/>
<path d="M506.6 258.6 C510.9 257.4 522.8 253.8 532.5 251.4 C542.2 249.0 555.8 245.8 565.0 244.0 C574.2 242.2 581.9 241.5 587.7 240.8 C593.5 240.2 596.8 240.2 600.0 240.1 C603.2 240.0 604.7 239.9 607.2 240.0 C609.7 240.1 612.3 240.2 615.0 240.6 C617.7 241.0 619.4 241.2 623.5 242.2 C627.6 243.1 633.2 244.4 639.7 246.3 C646.2 248.2 655.5 251.0 662.5 253.8 C669.5 256.6 675.5 260.0 682.0 263.2 C688.5 266.4 695.0 269.8 701.5 272.9 C708.0 276.0 714.6 279.0 721.0 281.9 C727.4 284.8 736.7 288.6 739.8 290.0" fill="none" stroke="#17292e" stroke-width="2.1" stroke-linecap="round"/>
<rect x="478.8" y="248.7" width="24.3" height="13.6" fill="#1f3338"/>
<text x="490.9" y="257.95" text-anchor="middle" font-size="6.8" font-weight="bold" fill="#fff">MSC</text>
<rect x="478.8" y="278" width="24.3" height="13.6" fill="#5f828a"/>
<text x="490.9" y="287.25" text-anchor="middle" font-size="6.8" font-weight="bold" fill="#fff">SC</text>
<text x="452.8" y="316.3" font-size="6.15" font-weight="bold" fill="#222">Applications</text>
<text x="480" y="324.2" font-size="7.4" font-weight="bold" fill="#222">Ville</text>
<text x="480" y="329.9" font-size="8" fill="#1a1a1a">City</text>
<text x="498" y="328.3" font-size="8.1" font-weight="bold" fill="#222">(50km/h)</text>
<text x="594.5" y="324.2" font-size="7.4" font-weight="bold" fill="#222">Route</text>
<text x="594.5" y="329.9" font-size="8" fill="#1a1a1a">Street</text>
<text x="619" y="328.3" font-size="8.1" font-weight="bold" fill="#222">(90km/h)</text>
<text x="703" y="324.2" font-size="7.4" font-weight="bold" fill="#222">Autoroute</text>
<text x="703" y="329.9" font-size="8" fill="#1a1a1a">Highway</text>
<text x="741.5" y="328.3" font-size="8.1" font-weight="bold" fill="#222">(130km/h)</text>
<rect x="448.3" y="350.2" width="344.6" height="87.9" fill="#a0cad8"/>
<line x1="448.3" x2="792.9" y1="365.40" y2="365.40" stroke="#e2f3f9" stroke-width="1.15"/>
<line x1="448.3" x2="792.9" y1="381.70" y2="381.70" stroke="#e2f3f9" stroke-width="1.15"/>
<line x1="448.3" x2="792.9" y1="398.00" y2="398.00" stroke="#e2f3f9" stroke-width="1.15"/>
<line x1="448.3" x2="792.9" y1="414.30" y2="414.30" stroke="#e2f3f9" stroke-width="1.15"/>
<line x1="448.3" x2="792.9" y1="430.60" y2="430.60" stroke="#e2f3f9" stroke-width="1.15" opacity="0.55"/>
<text x="432.2" y="352.2" font-size="6.8" font-weight="bold" fill="#222" stroke="#222" stroke-width="0.15">0,60</text>
<text x="432.2" y="368.5" font-size="6.8" font-weight="bold" fill="#222" stroke="#222" stroke-width="0.15">0,56</text>
<text x="432.2" y="385.0" font-size="6.8" font-weight="bold" fill="#222" stroke="#222" stroke-width="0.15">0,52</text>
<text x="432.2" y="401.9" font-size="6.8" font-weight="bold" fill="#222" stroke="#222" stroke-width="0.15">0,48</text>
<text x="432.2" y="419.0" font-size="6.8" font-weight="bold" fill="#222" stroke="#222" stroke-width="0.15">0,44</text>
<text x="432.2" y="437.0" font-size="6.8" font-weight="bold" fill="#222" stroke="#222" stroke-width="0.15">0,40</text>
<text transform="translate(430,375) rotate(-90)" font-size="5.9" font-weight="bold" fill="#222" stroke="#222" stroke-width="0.15">Friction µ</text>
<path d="M451.0 367.4 C466.7 368.8 513.5 372.9 545.0 375.6 C576.5 378.3 617.5 381.6 640.0 383.6 C662.5 385.6 665.3 386.3 680.0 387.6 C694.7 388.9 714.7 390.3 728.0 391.4 C741.3 392.5 749.2 393.3 760.0 394.2 C770.8 395.1 787.5 396.3 793.0 396.7" fill="none" stroke="#7fc241" stroke-width="2"/>
<path d="M451.0 407.8 C466.7 406.9 513.5 404.5 545.0 402.6 C576.5 400.8 617.5 398.1 640.0 396.7 C662.5 395.3 665.3 395.1 680.0 394.2 C694.7 393.3 714.7 391.9 728.0 391.1 C741.3 390.3 749.2 390.1 760.0 389.6 C770.8 389.1 787.5 388.4 793.0 388.1" fill="none" stroke="#3fa535" stroke-width="2"/>
<path d="M451.0 423.9 C482.5 423.4 583.0 421.8 640.0 420.9 C697.0 420.0 767.5 418.9 793.0 418.5" fill="none" stroke="#0b5a2c" stroke-width="2.5"/>
<rect x="764.3" y="374.4" width="21.8" height="10.4" fill="#3fa535"/>
<text x="775.2" y="382.05" text-anchor="middle" font-size="6.8" font-weight="bold" fill="#fff">EN10</text>
<rect x="764.3" y="399.4" width="21.8" height="10.2" fill="#8cc63f"/>
<text x="775.2" y="406.95" text-anchor="middle" font-size="6.8" font-weight="bold" fill="#fff">MX10</text>
<rect x="764.3" y="423.2" width="21.8" height="10.2" fill="#0b5a2c"/>
<text x="775.2" y="430.75" text-anchor="middle" font-size="6.8" font-weight="bold" fill="#fff">X59</text>
<line x1="448.8" x2="448.8" y1="430" y2="441" stroke="#1d3f4c" stroke-width="1"/>
<text x="448.8" y="447.4" text-anchor="middle" font-size="6.8" font-weight="bold" fill="#222">0</text>
<line x1="466.0" x2="466.0" y1="430" y2="441" stroke="#1d3f4c" stroke-width="1"/>
<text x="466.0" y="447.4" text-anchor="middle" font-size="6.8" font-weight="bold" fill="#222">5</text>
<line x1="483.2" x2="483.2" y1="430" y2="441" stroke="#1d3f4c" stroke-width="1"/>
<text x="483.2" y="447.4" text-anchor="middle" font-size="6.8" font-weight="bold" fill="#222">10</text>
<line x1="500.4" x2="500.4" y1="430" y2="441" stroke="#1d3f4c" stroke-width="1"/>
<text x="500.4" y="447.4" text-anchor="middle" font-size="6.8" font-weight="bold" fill="#222">20</text>
<line x1="517.6" x2="517.6" y1="430" y2="441" stroke="#1d3f4c" stroke-width="1"/>
<text x="517.6" y="447.4" text-anchor="middle" font-size="6.8" font-weight="bold" fill="#222">15</text>
<line x1="534.8" x2="534.8" y1="430" y2="441" stroke="#1d3f4c" stroke-width="1"/>
<text x="534.8" y="447.4" text-anchor="middle" font-size="6.8" font-weight="bold" fill="#222">25</text>
<line x1="552.0" x2="552.0" y1="430" y2="441" stroke="#1d3f4c" stroke-width="1"/>
<text x="552.0" y="447.4" text-anchor="middle" font-size="6.8" font-weight="bold" fill="#222">30</text>
<line x1="569.2" x2="569.2" y1="430" y2="441" stroke="#1d3f4c" stroke-width="1"/>
<text x="569.2" y="447.4" text-anchor="middle" font-size="6.8" font-weight="bold" fill="#222">35</text>
<line x1="586.4" x2="586.4" y1="430" y2="441" stroke="#1d3f4c" stroke-width="1"/>
<text x="586.4" y="447.4" text-anchor="middle" font-size="6.8" font-weight="bold" fill="#222">40</text>
<line x1="603.6" x2="603.6" y1="430" y2="441" stroke="#1d3f4c" stroke-width="1"/>
<text x="603.6" y="447.4" text-anchor="middle" font-size="6.8" font-weight="bold" fill="#222">45</text>
<line x1="620.8" x2="620.8" y1="430" y2="441" stroke="#1d3f4c" stroke-width="1"/>
<text x="620.8" y="447.4" text-anchor="middle" font-size="6.8" font-weight="bold" fill="#222">50</text>
<line x1="638.0" x2="638.0" y1="430" y2="441" stroke="#1d3f4c" stroke-width="1"/>
<text x="638.0" y="447.4" text-anchor="middle" font-size="6.8" font-weight="bold" fill="#222">55</text>
<line x1="655.2" x2="655.2" y1="430" y2="441" stroke="#1d3f4c" stroke-width="1"/>
<text x="655.2" y="447.4" text-anchor="middle" font-size="6.8" font-weight="bold" fill="#222">60</text>
<line x1="672.4" x2="672.4" y1="430" y2="441" stroke="#1d3f4c" stroke-width="1"/>
<text x="672.4" y="447.4" text-anchor="middle" font-size="6.8" font-weight="bold" fill="#222">65</text>
<line x1="689.6" x2="689.6" y1="430" y2="441" stroke="#1d3f4c" stroke-width="1"/>
<text x="689.6" y="447.4" text-anchor="middle" font-size="6.8" font-weight="bold" fill="#222">70</text>
<line x1="706.8" x2="706.8" y1="430" y2="441" stroke="#1d3f4c" stroke-width="1"/>
<text x="706.8" y="447.4" text-anchor="middle" font-size="6.8" font-weight="bold" fill="#222">75</text>
<line x1="724.0" x2="724.0" y1="430" y2="441" stroke="#1d3f4c" stroke-width="1"/>
<text x="724.0" y="447.4" text-anchor="middle" font-size="6.8" font-weight="bold" fill="#222">80</text>
<line x1="741.2" x2="741.2" y1="430" y2="441" stroke="#1d3f4c" stroke-width="1"/>
<text x="741.2" y="447.4" text-anchor="middle" font-size="6.8" font-weight="bold" fill="#222">85</text>
<line x1="758.4" x2="758.4" y1="430" y2="441" stroke="#1d3f4c" stroke-width="1"/>
<text x="758.4" y="447.4" text-anchor="middle" font-size="6.8" font-weight="bold" fill="#222">90</text>
<line x1="775.6" x2="775.6" y1="430" y2="441" stroke="#1d3f4c" stroke-width="1"/>
<text x="775.6" y="447.4" text-anchor="middle" font-size="6.8" font-weight="bold" fill="#222">95</text>
<line x1="792.8" x2="792.8" y1="430" y2="441" stroke="#1d3f4c" stroke-width="1"/>
<text x="792.8" y="447.4" text-anchor="middle" font-size="6.8" font-weight="bold" fill="#222">100</text>
<text x="447.6" y="456.9" font-size="7.55" font-weight="bold" fill="#222">Freinage linéaire</text>
</svg>
<div class="t" style="left:23.2px;top:259.2px;width:103px;height:16.2px;font-size:9.25px;line-height:17px"><span style="padding-left:6.6px">Plaquettes route</span></div>
<div class="t" style="left:448.2px;top:217.7px;width:112.2px;height:16.8px;font-size:9.2px;line-height:16.6px"><span style="padding-left:7.4px">Plaquettes scooter</span></div>
<div class="t" style="left:448.2px;top:342.2px;width:135.6px;height:16.8px;font-size:9.25px;line-height:17px"><span style="padding-left:7.8px">Plaquettes tout-terrain</span></div>
</body></html>
